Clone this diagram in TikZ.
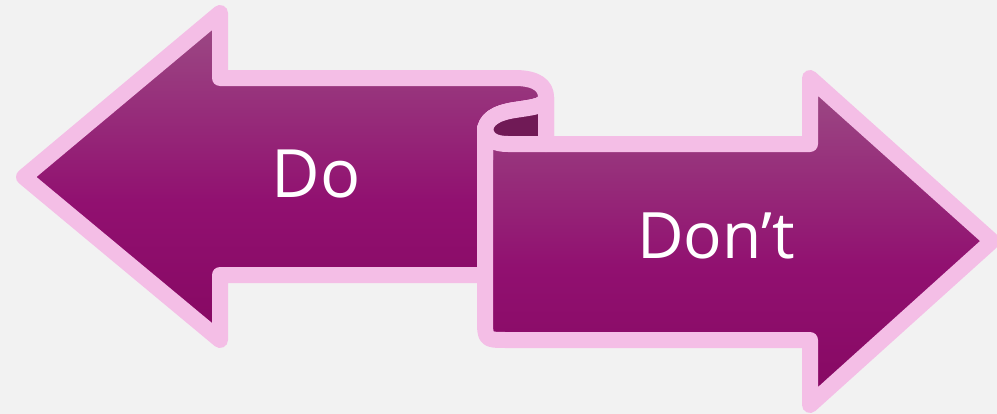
\documentclass[tikz,border=0pt]{standalone}
\usepackage{fontspec}
\setmainfont{Open Sans}
\usepackage{xcolor}
\definecolor{pagegray}{HTML}{F2F2F2}
\definecolor{rimpink}{HTML}{F4BEE6}
\definecolor{plumtop}{HTML}{9C4C85}
\definecolor{plummid}{HTML}{911070}
\definecolor{plumlow}{HTML}{860862}
\definecolor{rolldark}{HTML}{701A56}
\pgfdeclareverticalshading{plumfade}{100bp}{color(0bp)=(plumlow); color(25bp)=(plumlow); color(46bp)=(plummid); color(75bp)=(plumtop); color(100bp)=(plumtop)}
\tikzset{banner/.style={draw=rimpink, line width=12pt, line join=round, shading=plumfade}}
\tikzset{rimline/.style={draw=rimpink, line width=12pt, line cap=round, line join=round}}
\tikzset{wordtext/.style={text=white, anchor=base, inner sep=0pt}}

\begin{document}
\begin{tikzpicture}[x=0.75pt, y=-0.75pt]
\fill[pagegray] (0,0) rectangle (997,414);
\useasboundingbox (0,0) rectangle (997,414);
% left arrow: Do
\path[banner] (24,177) -- (220,13) -- (220,78) -- (515,78)
  .. controls (537,78) and (546,86) .. (546,97)
  .. controls (546,106) and (535,107) .. (515,110)
  .. controls (495,113) and (485,120) .. (485,132)
  -- (485,275) -- (220,275) -- (220,340) -- cycle;
% right arrow: Don't
\path[banner] (485,132) -- (485,318) .. controls (485,340) and (485,340) .. (507,340)
  -- (810,340) -- (810,405) -- (992,241) -- (810,78) -- (810,144) -- (546,144) -- (546,97)
  .. controls (546,106) and (535,107) .. (515,110)
  .. controls (495,113) and (485,120) .. (485,132) -- cycle;
% inside of the roll
\fill[rolldark] (546,97) .. controls (546,106) and (535,107) .. (515,110)
  .. controls (495,113) and (485,120) .. (485,132)
  -- (485,144) -- (546,144) -- cycle;
\draw[rimline] (546,144) -- (546,97)
  .. controls (546,106) and (535,107) .. (515,110)
  .. controls (495,113) and (485,120) .. (485,132) -- (485,160);
\draw[rimline] (485,128) .. controls (486,140) and (495,144) .. (508,144) -- (546,144);
% labels
\node[wordtext, font=\fontsize{50}{60}\selectfont] (do) at (316,197) {Do};
\node[wordtext, font=\fontsize{48}{58}\selectfont] (dont) at (716,258) {Don’t};
\end{tikzpicture}
\end{document}
